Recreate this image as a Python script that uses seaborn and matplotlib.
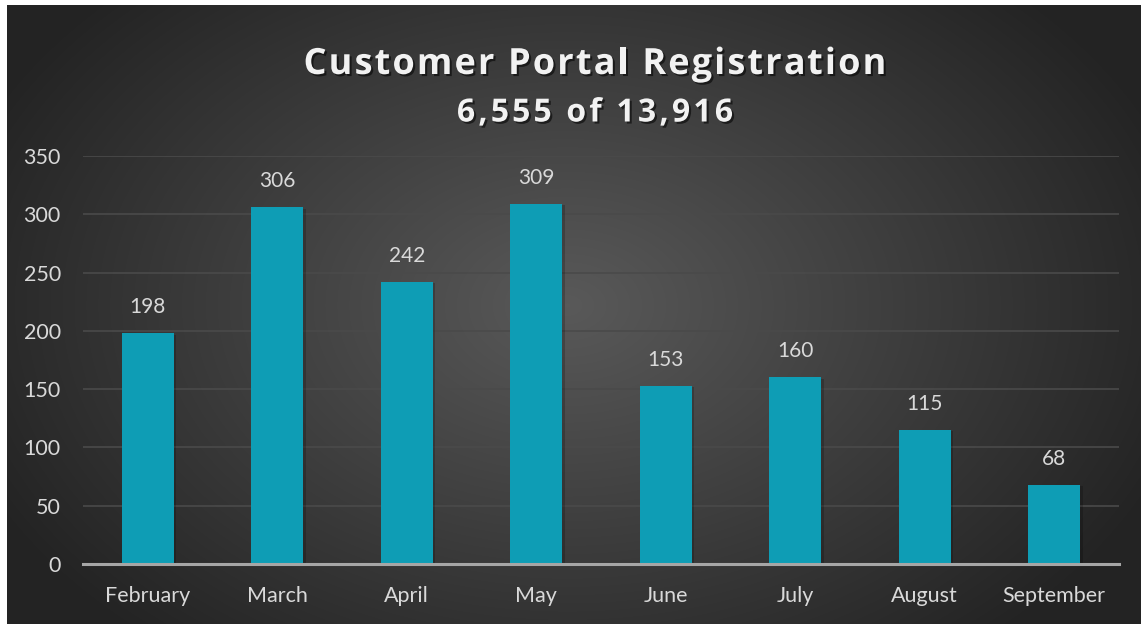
import numpy as np
import pandas as pd
import seaborn as sns
import matplotlib.pyplot as plt
import matplotlib.patheffects as pe

# chart data
months = ['February', 'March', 'April', 'May', 'June', 'July', 'August', 'September']
registrations = [198, 306, 242, 309, 153, 160, 115, 68]
title = 'Customer Portal Registration'
subtitle = '6,555 of 13,916'

sns.set_theme(style='dark')
plt.rcParams['font.family'] = ['Lato', 'DejaVu Sans']

W, H = 1141, 624
fig = plt.figure(figsize=(W / 100, H / 100), dpi=100, facecolor='white')


def spaced_text(fig, xc, yc, s, track, **kw):
    # draw text letter by letter to get the wide letter spacing of the original
    r = fig.canvas.get_renderer()

    def width(t):
        if not t:
            return 0
        tmp = fig.text(0, 0, t, **kw)
        w = tmp.get_window_extent(r).width
        tmp.remove()
        return w

    total = width(s) + track * (len(s) - 1)
    x0 = xc - total / 2
    for k, ch in enumerate(s):
        if ch == ' ':
            continue
        x = x0 + width(s[:k]) + track * k
        fig.text(x / W, 1 - yc / H, ch, ha='left', va='center', **kw)


# radial gradient background (dark slate, lighter in the middle)
bg = fig.add_axes([7 / W, 0, 1 - 7 / W, 1 - 5 / H])
yy, xx = np.mgrid[0:619, 0:1134]
d = np.sqrt(((xx - 560) / 640) ** 2 + ((yy - 300) / 440) ** 2)
shade = np.clip(0.35 - 0.21 * d, 0.14, 0.35)
bg.imshow(np.dstack([shade] * 3), aspect='auto', interpolation='bilinear')
bg.set_axis_off()

ax = fig.add_axes([83 / W, 1 - 564 / H, (1119 - 83) / W, (564 - 156) / H])
ax.patch.set_alpha(0)

df = pd.DataFrame({'month': months, 'count': registrations})
sns.barplot(data=df, x='month', y='count', color='#0e9db5', saturation=1,
            width=0.4, linewidth=0, edgecolor='none', ax=ax, zorder=3)

for p in ax.patches:
    p.set_path_effects([pe.SimplePatchShadow(offset=(2, -1), shadow_rgbFace='black', alpha=0.2),
                        pe.Normal()])

for i, v in enumerate(registrations):
    ax.annotate(str(v), (i, v), xytext=(0, 26), textcoords='offset pixels',
                ha='center', va='center', color='#d9d9d9', fontsize=15)

ax.set_ylim(0, 350)
ax.set_xlim(-0.5, len(months) - 0.5)
ax.set_yticks(range(0, 351, 50))
ax.grid(axis='y', color='#4a4a4a', linewidth=1.2, zorder=0)
ax.grid(axis='x', visible=False)
for s in ['top', 'right', 'left']:
    ax.spines[s].set_visible(False)
ax.spines['bottom'].set_color('#a6a6a6')
ax.spines['bottom'].set_linewidth(2.2)
ax.spines['bottom'].set_zorder(4)
ax.tick_params(axis='both', colors='#d9d9d9', labelsize=15.5, length=0)
ax.tick_params(axis='y', pad=16)
ax.tick_params(axis='x', pad=16)
ax.set_xlabel('')
ax.set_ylabel('')

shadow = [pe.SimplePatchShadow(offset=(1.5, -1.5), shadow_rgbFace='black', alpha=0.55), pe.Normal()]
title_kw = dict(color='#f2f2f2', fontweight='bold', family=['Open Sans', 'DejaVu Sans'],
                path_effects=shadow)
spaced_text(fig, 595, 65, title, 2.1, fontsize=26, **title_kw)
spaced_text(fig, 595, 113, subtitle, 3.2, fontsize=23, **title_kw)

fig.savefig('out.png', dpi=100, facecolor='white')
